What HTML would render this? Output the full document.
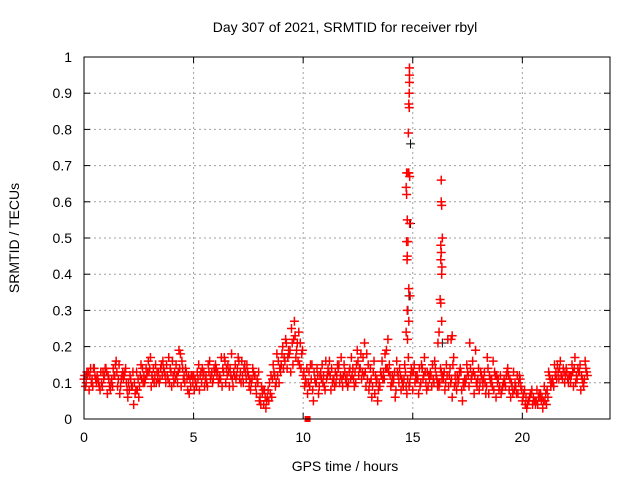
<!DOCTYPE html>
<html><head><meta charset="utf-8"><style>
body{margin:0;background:#fff;}
svg{display:block;font-family:"Liberation Sans",sans-serif;font-size:14px;}
</style></head><body>
<svg id="chart" width="640" height="480">
<text x="345" y="32" text-anchor="middle">Day 307 of 2021, SRMTID for receiver rbyl</text>
<text x="345" y="471" text-anchor="middle">GPS time / hours</text>
<text transform="translate(19,238) rotate(-90)" text-anchor="middle">SRMTID / TECUs</text>
<g id="grid"></g>
<g id="ticks"></g>
<g id="marks"></g>
<rect x="84" y="57" width="526" height="362" fill="none" stroke="#000" stroke-width="1"/>
</svg>
<script>
const xTicks=[0,5,10,15,20];
const yTicks=[0,0.1,0.2,0.3,0.4,0.5,0.6,0.7,0.8,0.9,1];
const yTickLabels=["0","0.1","0.2","0.3","0.4","0.5","0.6","0.7","0.8","0.9","1"];
const sampleStep=0.2;
const seriesA=[.11,.13,.09,.12,.10,.14,.08,.12,.15,.11,.06,.09,.13,.15,.11,.14,.10,.13,.16,.12,.09,.15,.18,.10,.07,.12,.11,.14,.10,.12,.15,.12,.17,.13,.09,.14,.16,.11,.08,.12,.05,.04,.08,.11,.18,.15,.22,.19,.27,.24,.12,.07,.15,.10,.13,.08,.16,.11,.14,.09,.12,.17,.10,.14,.21,.08,.13,.05,.16,.19,.09,.06,.14,.11,.17,.08,.12,.15,.10,.13,.16,.09,.11,.22,.06,.08,.13,.10,.21,.07,.14,.09,.17,.11,.06,.12,.10,.08,.13,.07,.05,.03,.07,.04,.06,.09,.13,.10,.15,.12,.14,.10,.17,.13,.09];
const seriesB=[.09,.12,.14,.10,.13,.07,.11,.16,.09,.13,.08,.04,.11,.14,.12,.09,.15,.11,.13,.17,.12,.10,.16,.13,.09,.11,.08,.13,.15,.10,.12,.17,.10,.14,.12,.16,.10,.13,.11,.07,.04,.06,.10,.13,.16,.20,.14,.25,.17,.21,.09,.13,.05,.12,.15,.11,.08,.13,.10,.15,.10,.14,.19,.11,.09,.14,.07,.10,.13,.22,.12,.16,.08,.13,.10,.15,.07,.11,.13,.09,.12,.14,.08,.12,.17,.10,.05,.15,.11,.19,.10,.13,.07,.16,.10,.08,.12,.06,.10,.12,.07,.05,.04,.08,.05,.07,.11,.15,.11,.14,.11,.15,.12,.08,.16];
const seriesC=[.13,.10,.11,.08,.12,.11,.14,.09,.12,.10,.11,.07,.09,.12,.16,.11,.13,.15,.10,.14,.13,.19,.11,.08,.12,.09,.13,.11,.16,.14,.10,.14,.12,.18,.11,.13,.15,.09,.13,.10,.07,.05,.12,.09,.14,.17,.19,.15,.21,.18,.10,.15,.11,.09,.12,.14,.10,.12,.17,.11,.14,.09,.12,.17,.11,.06,.10,.13,.18,.15,.11,.12,.10,.07,.14,.12,.09,.17,.12,.11,.09,.11,.15,.10,.12,.13,.09,.12,.16,.09,.12,.07,.11,.13,.08,.10,.14,.09,.07,.09,.04,.06,.05,.06,.03,.08,.10,.13,.16,.10,.12,.09,.14,.11,.13];
const seriesD=[.12,.08,.14,.11,.09,.13,.10,.15,.07,.12,.10,.13,.08,.11,.14,.17,.12,.10,.14,.11,.16,.12,.09,.14,.11,.08,.15,.12,.09,.13,.14,.11,.16,.09,.13,.17,.12,.15,.10,.09,.06,.08,.05,.15,.12,.18,.21,.13,.23,.15,.13,.10,.08,.14,.11,.16,.12,.09,.15,.12,.09,.12,.15,.18,.13,.10,.16,.08,.11,.14,.10,.08,.12,.15,.09,.13,.11,.14,.08,.12,.14,.10,.13,.09,.15,.12,.08,.11,.14,.12,.08,.11,.14,.09,.12,.07,.09,.11,.08,.10,.06,.04,.08,.05,.07,.05,.12,.09,.13,.11,.13,.12,.10,.15,.11];
const seriesE=[.10,.14,.12,.09,.11,.12,.09,.13,.11,.14,.12,.10,.06,.10,.13,.12,.10,.14,.12,.10,.10,.13,.14,.11,.12,.10,.12,.09,.13,.11,.13,.09,.14,.12,.15,.11,.14,.12,.14,.11,.09,.03,.07,.12,.10,.14,.17,.21,.19,.14,.11,.09,.13,.07,.10,.12,.14,.10,.12,.13,.13,.11,.16,.13,.18,.11,.12,.09,.11,.13,.10,.13,.11,.09,.12,.10,.14,.12,.09,.15,.11,.13,.10,.14,.09,.11,.10,.13,.12,.10,.13,.10,.12,.08,.11,.09,.13,.10,.09,.11,.08,.05,.06,.04,.06,.04,.09,.12,.14,.13,.10,.13,.11,.12,.14];
const seriesF=[.12,.11,.10,.13,.14,.09,.12,.11,.13,.08,.09,.08,.12,.10,.13,.14,.11,.12,.15,.13,.11,.14,.12,.12,.10,.13,.10,.12,.11,.13,.11,.13,.15,.11,.12,.10,.13,.11,.12,.13,.08,.06,.06,.10,.13,.16,.18,.22,.16,.19,.14,.11,.10,.12,.09,.13,.11,.15,.11,.10,.11,.13,.14,.12,.15,.09,.11,.12,.14,.12,.13,.10,.09,.11,.13,.11,.10,.13,.11,.10,.10,.12,.12,.11,.10,.14,.11,.09,.13,.11,.11,.09,.10,.12,.09,.11,.12,.07,.12,.08,.06,.07,.05,.07,.05,.06,.11,.11,.12,.12,.12,.14,.13,.10,.12];
const spikeTimes=[14.85,14.85,14.85,14.84,14.82,14.84,14.8,14.82,14.72,14.78,14.86,14.7,14.72,14.75,14.86,14.72,14.78,14.75,14.74,14.82,14.88,14.75,14.82,14.7,14.76,16.3,16.3,16.32,16.35,16.28,16.3,16.28,16.33,16.32,16.25,16.28,16.32,16.2,16.15,16.8,16.75];
const spikeValues=[0.97,0.95,0.93,0.9,0.87,0.86,0.79,0.68,0.68,0.68,0.67,0.64,0.62,0.55,0.54,0.49,0.49,0.45,0.44,0.36,0.34,0.3,0.27,0.24,0.22,0.66,0.6,0.59,0.5,0.48,0.46,0.44,0.42,0.4,0.33,0.32,0.27,0.24,0.21,0.23,0.22];
const blackTimes=[14.9,14.9,14.83,14.78,16.35,0.1,22.7];
const blackValues=[0.76,0.54,0.34,0.3,0.21,0.12,0.12];
const NS='http://www.w3.org/2000/svg';
const X=t=>84+t*(526/24), Y=v=>419-v*362;
const g=document.getElementById('grid'),tk=document.getElementById('ticks'),mk=document.getElementById('marks');
function el(tag,attrs,parent){const e=document.createElementNS(NS,tag);for(const k in attrs)e.setAttribute(k,attrs[k]);parent.appendChild(e);return e;}
xTicks.forEach(t=>{const x=X(t);
 if(t>0){const l=el('line',{x1:x,x2:x,y1:57,y2:419,stroke:'#a0a0a0','stroke-dasharray':'2,3'},g);
 
 }
 el('line',{x1:x,x2:x,y1:419,y2:413,stroke:'#000'},tk);el('line',{x1:x,x2:x,y1:57,y2:63,stroke:'#000'},tk);
 const tx=el('text',{x:x,y:442,'text-anchor':'middle'},tk);tx.textContent=String(t);
 
 });
yTicks.forEach((v,i)=>{const y=Y(v);
 if(v>0&&v<1){const l=el('line',{x1:84,x2:610,y1:y,y2:y,stroke:'#a0a0a0','stroke-dasharray':'2,3'},g);
 
 }
 el('line',{x1:84,x2:90,y1:y,y2:y,stroke:'#000'},tk);el('line',{x1:610,x2:604,y1:y,y2:y,stroke:'#000'},tk);
 const tx=el('text',{x:72,y:y+5,'text-anchor':'end'},tk);tx.textContent=yTickLabels[i];
 
 });
function plus(t,v,color,w){const x=X(t),y=Y(v);
 const p=el('path',{d:`M${x-4.5},${y}H${x+4.5}M${x},${y-4.5}V${y+4.5}`,stroke:color,'stroke-width':w,fill:'none'},mk);
 
 }
blackValues.forEach((v,i)=>plus(blackTimes[i],v,'#000',1));
[[seriesA,0],[seriesD,0.033],[seriesB,0.067],[seriesE,0.1],[seriesC,0.133],[seriesF,0.167]].forEach(([arr,off])=>arr.forEach((v,i)=>plus(i*sampleStep+off,v,'#f00',1.5)));
spikeValues.forEach((v,i)=>plus(spikeTimes[i],spikeValues[i],'#f00',1.5));
const sq=el('rect',{x:X(10.2)-3,y:416,width:6,height:6,fill:'#f00'},mk);


</script>
</body></html>
